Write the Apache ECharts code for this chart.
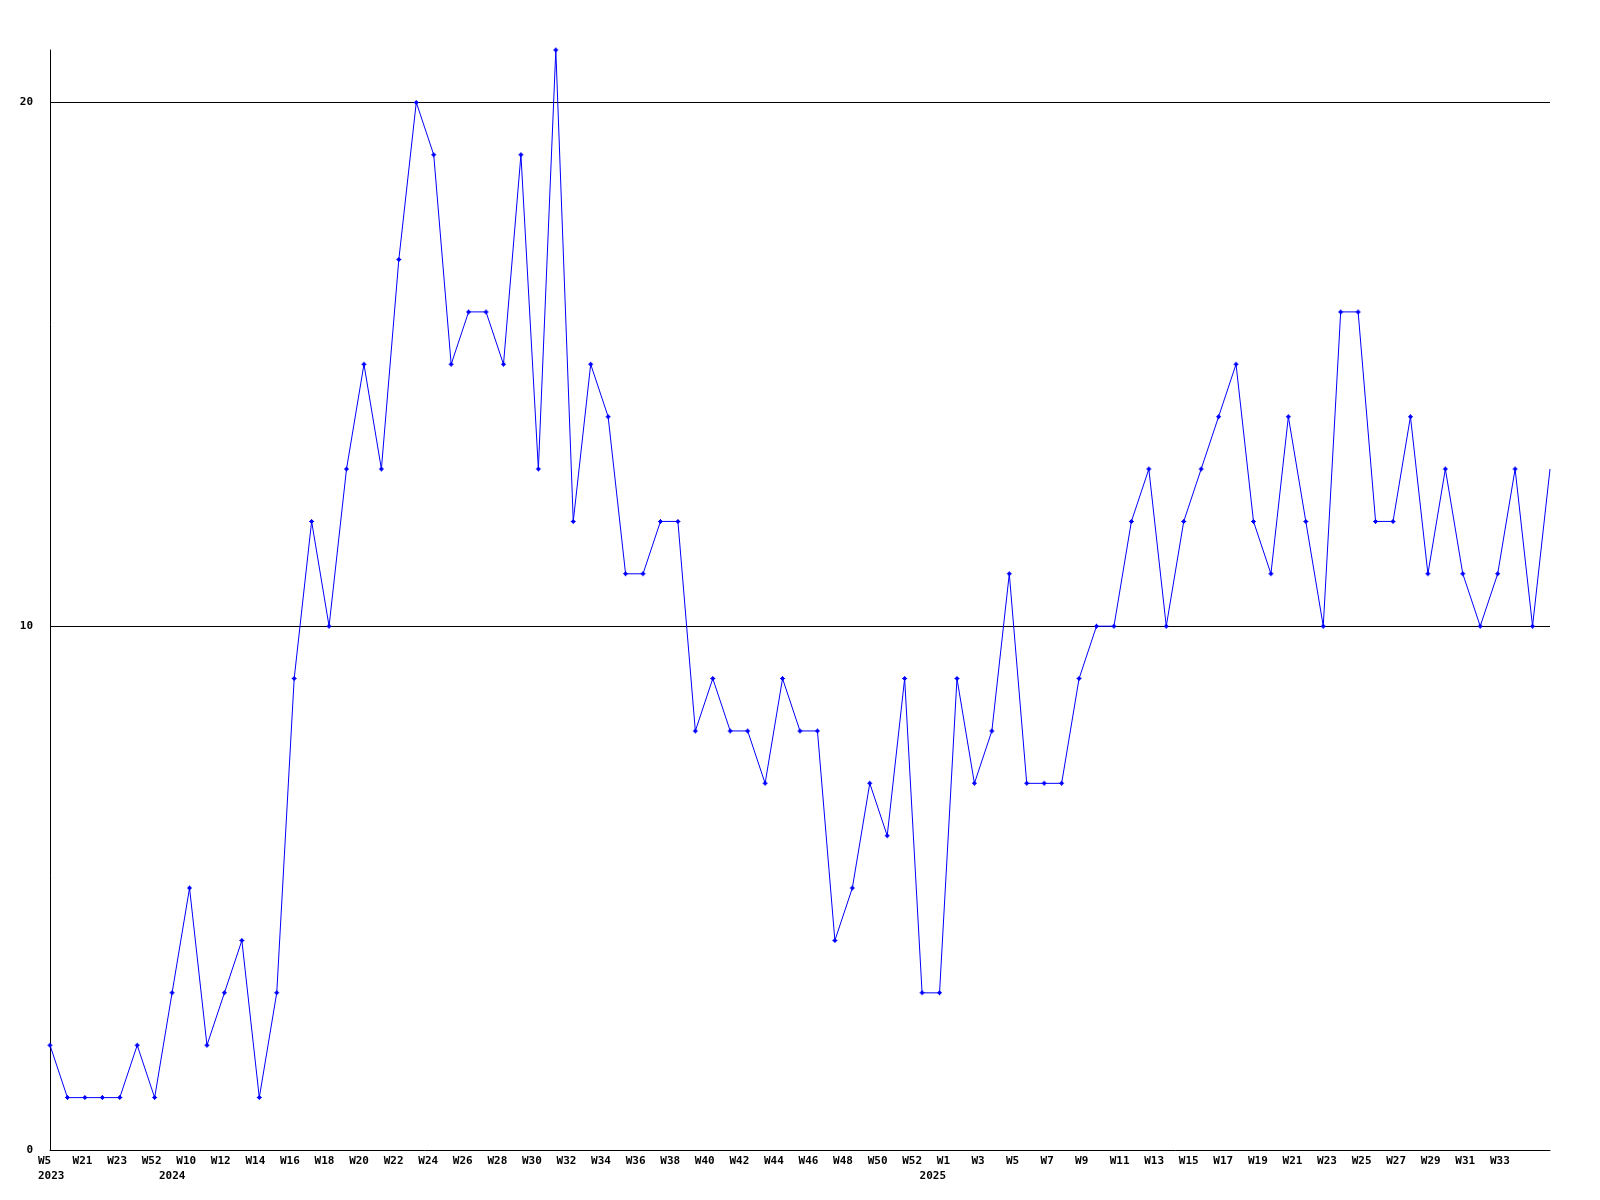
<!DOCTYPE html>
<html>
<head>
<meta charset="utf-8">
<script src="https://cdn.jsdelivr.net/npm/echarts@6/dist/echarts.min.js"></script>
<style>
html,body{margin:0;padding:0;background:#fff;}
#chart{width:1600px;height:1200px;}
</style>
</head>
<body>
<div id="chart"></div>
<script>
// Categories: year-week of each data point
const categories = [
  '2023-W5','2023-W20','2023-W21','2023-W22','2023-W23','2023-W51','2023-W52',
  '2024-W9','2024-W10','2024-W11','2024-W12','2024-W13','2024-W14','2024-W15','2024-W16','2024-W17','2024-W18',
  '2024-W19','2024-W20','2024-W21','2024-W22','2024-W23','2024-W24','2024-W25','2024-W26','2024-W27','2024-W28',
  '2024-W29','2024-W30','2024-W31','2024-W32','2024-W33','2024-W34','2024-W35','2024-W36','2024-W37','2024-W38',
  '2024-W39','2024-W40','2024-W41','2024-W42','2024-W43','2024-W44','2024-W45','2024-W46','2024-W47','2024-W48',
  '2024-W49','2024-W50','2024-W51','2024-W52',
  '2025-W0','2025-W1','2025-W2','2025-W3','2025-W4','2025-W5','2025-W6','2025-W7','2025-W8','2025-W9','2025-W10',
  '2025-W11','2025-W12','2025-W13','2025-W14','2025-W15','2025-W16','2025-W17','2025-W18','2025-W19','2025-W20',
  '2025-W21','2025-W22','2025-W23','2025-W24','2025-W25','2025-W26','2025-W27','2025-W28','2025-W29','2025-W30',
  '2025-W31','2025-W32','2025-W33','2025-W34','2025-W35'
];
// Series values
const values = [
  2,1,1,1,1,2,1,3,5,2,
  3,4,1,3,9,12,10,13,15,13,
  17,20,19,15,16,16,15,19,13,21,
  12,15,14,11,11,12,12,8,9,8,
  8,7,9,8,8,4,5,7,6,9,
  3,3,9,7,8,11,7,7,7,9,
  10,10,12,13,10,12,13,14,15,12,
  11,14,12,10,16,16,12,12,14,11,
  13,11,10,11,13,10,13
];
// Y tick labels
const yTicks = [0, 10, 20];

const yearOf = c => c.split('-')[0];
const weekOf = c => c.split('-')[1];
const lastLabeled = 84;

const font = '"DejaVu Sans Mono", "Liberation Mono", monospace';
const chart = echarts.init(document.getElementById('chart'), null, {renderer: 'canvas'});

function showWeek(i) { return i % 2 === 0 && i <= lastLabeled; }
function showYear(i) { return i === 0 || yearOf(categories[i]) !== yearOf(categories[i - 1]); }

chart.setOption({
  animation: false,
  backgroundColor: '#ffffff',
  grid: [
    {left: 50, right: 50, top: 50, bottom: 50, containLabel: false},
    {left: 38, right: 75.5, top: 50, bottom: 50, containLabel: false}
  ],
  xAxis: [
    {
      type: 'category', gridIndex: 0, data: categories, boundaryGap: false,
      axisLine: {show: true, lineStyle: {color: '#000', width: 1}},
      axisTick: {show: false},
      axisLabel: {show: false},
      splitLine: {show: false}
    },
    {
      type: 'category', gridIndex: 1, data: categories, boundaryGap: false,
      axisLine: {show: false},
      axisTick: {show: false},
      splitLine: {show: false},
      axisLabel: {
        show: true,
        interval: (i) => showWeek(i) || showYear(i),
        margin: 4,
        align: 'left',
        color: '#000',
        fontFamily: font,
        fontWeight: 'bold',
        fontSize: 11,
        lineHeight: 15,
        formatter: (val, i) => {
          const w = showWeek(i) ? weekOf(val) : '';
          const y = showYear(i) ? yearOf(val) : '';
          return y ? (w + '\n' + y) : w;
        }
      }
    }
  ],
  yAxis: [
    {
      type: 'value', gridIndex: 0, min: 0, max: 21, interval: 10,
      axisLine: {show: true, lineStyle: {color: '#000', width: 1}},
      axisTick: {show: false},
      axisLabel: {
        show: true, margin: 17, color: '#000', fontFamily: font, fontWeight: 'bold', fontSize: 11,
        showMaxLabel: false,
        formatter: v => (yTicks.indexOf(v) >= 0 ? String(v) : '')
      },
      splitLine: {show: true, showMinLine: false, showMaxLine: false, lineStyle: {color: '#000', width: 1}}
    },
    {
      type: 'value', gridIndex: 1, min: 0, max: 21, show: false
    }
  ],
  series: [
    {
      type: 'line',
      xAxisIndex: 0, yAxisIndex: 0,
      data: values.map((v, i) => i === values.length - 1 ? {value: v, symbol: 'none'} : v),
      symbol: 'path://M2,0H3V1H4V2H5V3H4V4H3V5H2V4H1V3H0V2H1V1H2Z',
      symbolSize: 5,
      showAllSymbol: true,
      lineStyle: {color: '#0000ff', width: 1},
      itemStyle: {color: '#0000ff'},
      emphasis: {disabled: true},
      clip: false
    }
  ]
});
</script>
</body>
</html>
